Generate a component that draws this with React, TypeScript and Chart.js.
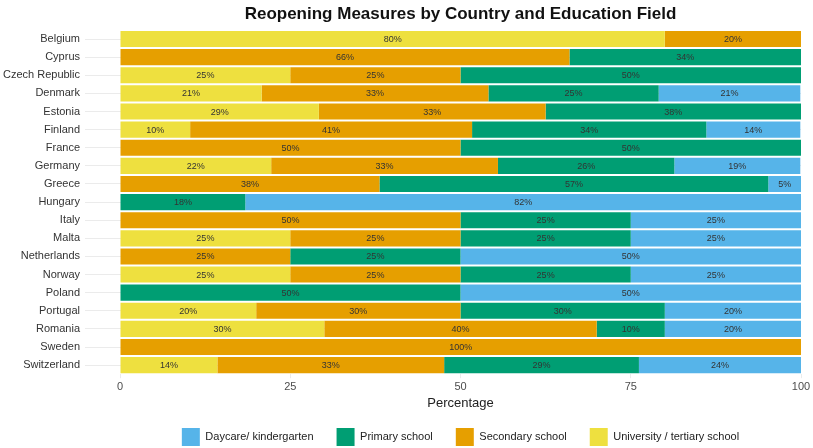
import React, { useEffect, useRef } from "react";
import { Chart, registerables } from "chart.js";

Chart.register(...registerables);

const countries = [
  "Belgium", "Cyprus", "Czech Republic", "Denmark", "Estonia", "Finland", "France",
  "Germany", "Greece", "Hungary", "Italy", "Malta", "Netherlands", "Norway", "Poland",
  "Portugal", "Romania", "Sweden", "Switzerland",
];

const university = [80, 0, 25, 20.8, 29.2, 10.3, 0, 22.2, 0, 0, 0, 25, 0, 25, 0, 20, 30, 0, 14.3];
const secondary = [20, 66, 25, 33.3, 33.3, 41.4, 50, 33.3, 38.1, 0, 50, 25, 25, 25, 0, 30, 40, 100, 33.3];
const primary = [0, 34, 50, 25, 37.5, 34.4, 50, 25.9, 57.1, 18.4, 25, 25, 25, 25, 50, 30, 10, 0, 28.6];
const daycare = [0, 0, 0, 20.8, 0, 13.8, 0, 18.5, 4.8, 81.6, 25, 25, 50, 25, 50, 20, 20, 0, 23.8];

const xTicks = [0, 25, 50, 75, 100];

const FONT = "'Liberation Sans', Arial, sans-serif";

const labelPlugin = {
  id: "segLabels",
  afterDatasetsDraw(chart: any) {
    const ctx = chart.ctx;
    ctx.save();
    ctx.font = `9px ${FONT}`;
    ctx.fillStyle = "#333333";
    ctx.textAlign = "center";
    ctx.textBaseline = "middle";
    chart.data.datasets.forEach((ds: any, di: number) => {
      const meta = chart.getDatasetMeta(di);
      meta.data.forEach((el: any, i: number) => {
        const v = ds.data[i];
        if (!v) return;
        const cx = (el.x + el.base) / 2;
        ctx.fillText(`${Math.round(v)}%`, cx, el.y + 0.5);
      });
    });
    ctx.restore();
  },
};

const legendFitPlugin = {
  id: "legendFit",
  beforeLayout(chart: any) {
    const lg = chart.legend;
    if (lg && !lg._patchedFit) {
      const orig = lg.fit.bind(lg);
      lg.fit = function () {
        orig();
        this.height = 35;
      };
      lg._patchedFit = true;
    }
  },
  afterLayout(chart: any) {
    const lg = chart.legend;
    if (lg) {
      lg.top = 405;
      lg.bottom = 448;
      lg.height = lg.bottom - lg.top;
    }
  },
};

export default function App() {
  const ref = useRef<HTMLCanvasElement>(null);
  useEffect(() => {
    document.body.style.margin = "0";
    const mk = (label: string, data: number[], color: string) => ({
      label,
      data,
      backgroundColor: color,
      borderWidth: 0,
      categoryPercentage: 1,
      barPercentage: 0.89,
    });
    const chart = new Chart(ref.current!, {
      type: "bar",
      data: {
        labels: countries,
        datasets: [
          mk("University / tertiary school", university, "#EEE03F"),
          mk("Secondary school", secondary, "#E69F00"),
          mk("Primary school", primary, "#009E73"),
          mk("Daycare/ kindergarten", daycare, "#56B4E9"),
        ],
      },
      options: {
        indexAxis: "y",
        animation: false,
        responsive: false,
        layout: { padding: { left: 0, right: 12, top: 0, bottom: 2 } },
        scales: {
          x: {
            stacked: true,
            min: 0,
            max: 100,
            afterBuildTicks: (s: any) => {
              s.ticks = xTicks.map((v) => ({ value: v }));
            },
            ticks: { color: "#4d4d4d", font: { family: FONT, size: 11 }, padding: 2 },
            grid: { display: true, drawOnChartArea: false, drawTicks: true, tickLength: 4, color: "#ebebeb" },
            border: { display: false },
            title: {
              display: true,
              text: "Percentage",
              color: "#222222",
              font: { family: FONT, size: 13 },
              padding: { top: 0, bottom: 0 },
            },
          },
          y: {
            stacked: true,
            afterFit: (s: any) => {
              s.width = 120;
            },
            ticks: { color: "#333333", font: { family: FONT, size: 11 }, padding: 5 },
            grid: { offset: false, color: "#ebebeb", tickLength: 35, drawOnChartArea: true },
            border: { display: false },
          },
        },
        plugins: {
          title: {
            display: true,
            text: "Reopening Measures by Country and Education Field",
            fullSize: false,
            color: "#111111",
            font: { family: FONT, size: 17, weight: "bold" },
            padding: { top: 4, bottom: 5.6 },
          },
          legend: {
            position: "bottom",
            fullSize: false,
            reverse: true,
            labels: {
              boxWidth: 18,
              boxHeight: 18,
              padding: 23,
              color: "#222222",
              font: { family: FONT, size: 11 },
            },
          },
          tooltip: { enabled: false },
        },
      },
      plugins: [labelPlugin, legendFitPlugin],
    } as any);
    return () => chart.destroy();
  }, []);
  return (
    <div style={{ width: 813, height: 448 }}>
      <canvas ref={ref} width={813} height={448} style={{ display: "block" }} />
    </div>
  );
}
